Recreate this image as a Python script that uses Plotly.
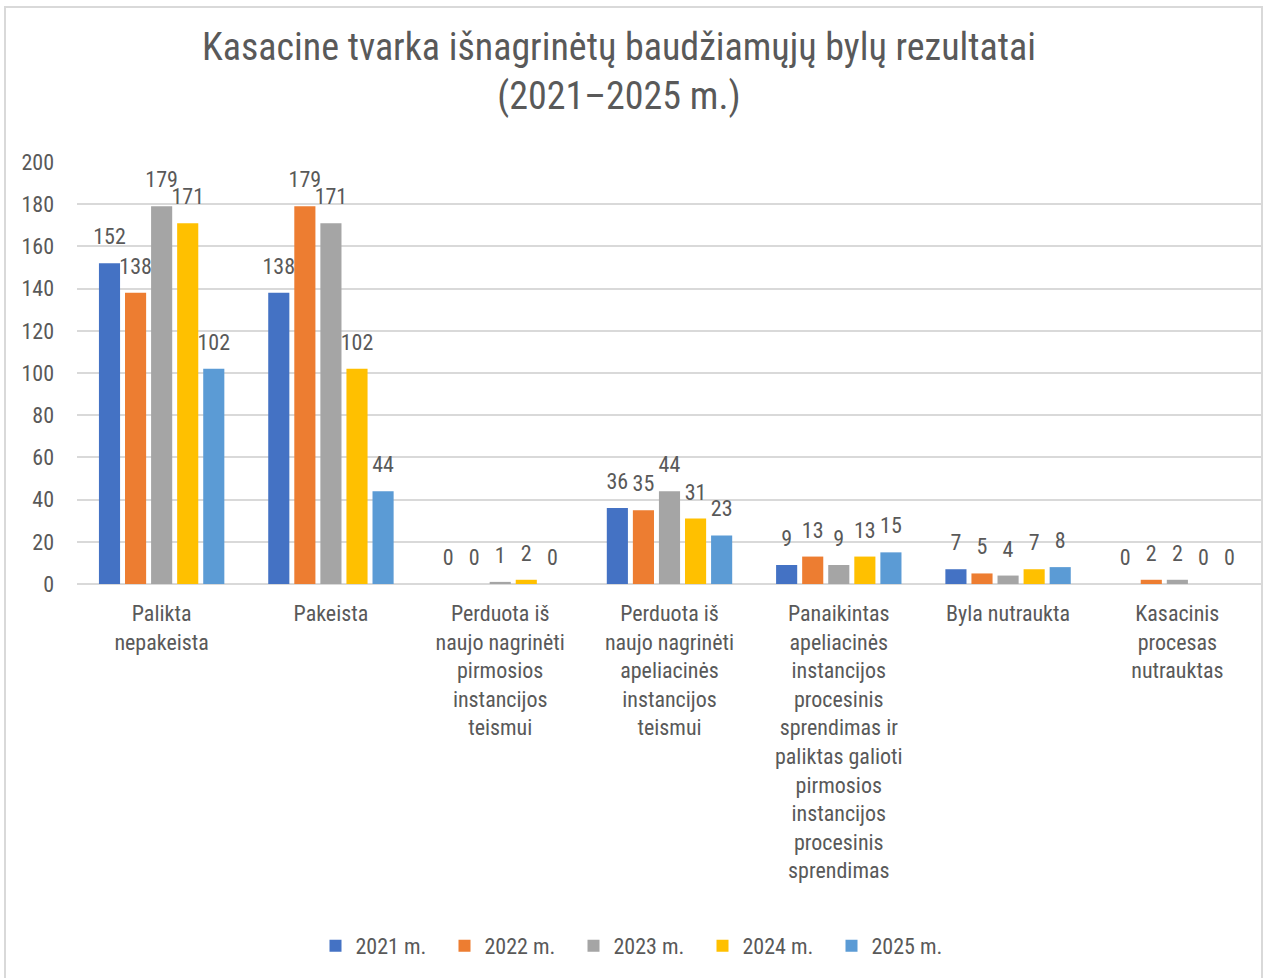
import plotly.graph_objects as go

categories = [
    "Palikta<br>nepakeista",
    "Pakeista",
    "Perduota iš<br>naujo nagrinėti<br>pirmosios<br>instancijos<br>teismui",
    "Perduota iš<br>naujo nagrinėti<br>apeliacinės<br>instancijos<br>teismui",
    "Panaikintas<br>apeliacinės<br>instancijos<br>procesinis<br>sprendimas ir<br>paliktas galioti<br>pirmosios<br>instancijos<br>procesinis<br>sprendimas",
    "Byla nutraukta",
    "Kasacinis<br>procesas<br>nutrauktas",
]
series_names = ["2021 m.", "2022 m.", "2023 m.", "2024 m.", "2025 m."]
v2021 = [152, 138, 0, 36, 9, 7, 0]
v2022 = [138, 179, 0, 35, 13, 5, 2]
v2023 = [179, 171, 1, 44, 9, 4, 2]
v2024 = [171, 102, 2, 31, 13, 7, 0]
v2025 = [102, 44, 0, 23, 15, 8, 0]
values = [v2021, v2022, v2023, v2024, v2025]
colors = ["#4472C4", "#ED7D31", "#A5A5A5", "#FFC000", "#5B9BD5"]
y_ticks = [0, 20, 40, 60, 80, 100, 120, 140, 160, 180, 200]
title_text = "Kasacine tvarka išnagrinėtų baudžiamųjų bylų rezultatai<br>(2021–2025 m.)"

FONT = "Roboto Condensed, Liberation Sans Narrow, Roboto, sans-serif"
TXT = "#595959"

W, H = 1265, 978
L, R, T, B = 77, 3, 162, 394
pw = W - L - R
ph = H - T - B
Y_MAX = 200
LABEL_GAP = 11 * Y_MAX / ph  # label lift above bar top (11 px in data units)

def px_x(x):
    return (x - L) / pw
def px_y(y):
    return (H - B - y) / ph

fig = go.Figure()
for i, (name, vals, col) in enumerate(zip(series_names, values, colors)):
    fig.add_trace(go.Bar(
        x=categories, y=vals, name=name, marker_color=col, marker_line_width=0,
        offsetgroup=str(i), hoverinfo="x+y+name",
    ))
for i, (name, vals) in enumerate(zip(series_names, values)):
    fig.add_trace(go.Bar(
        x=categories, y=[LABEL_GAP] * len(vals), base=vals, name=name,
        offsetgroup=str(i), marker_color="rgba(0,0,0,0)", marker_line_width=0,
        showlegend=False, hoverinfo="skip",
        text=[str(v) for v in vals], textposition="outside",
        textfont=dict(size=22, color=TXT, family=FONT),
        cliponaxis=False,
    ))

fig.update_layout(
    width=W, height=H,
    margin=dict(l=L, r=R, t=T, b=B, autoexpand=False),
    paper_bgcolor="white", plot_bgcolor="white",
    barmode="group", bargap=0.23, bargroupgap=0.19,
    font=dict(family=FONT, color=TXT, size=22),
    legend=dict(
        orientation="h", x=638 / W, xanchor="center", xref="container",
        y=1 - 946 / H, yanchor="middle", yref="container",
        font=dict(size=22, color=TXT, family=FONT),
        itemwidth=30, traceorder="normal",
        entrywidth=84, entrywidthmode="pixels",
    ),
    showlegend=True,
    uniformtext=dict(mode="show", minsize=22),
)
fig.add_annotation(
    text=title_text, xref="paper", yref="paper",
    x=px_x(619), y=px_y(71), xanchor="center", yanchor="middle",
    showarrow=False, font=dict(size=38, color=TXT, family=FONT),
)
fig.update_xaxes(
    showgrid=False, showline=False, ticks="", tickfont=dict(size=22, color=TXT, family=FONT),
    ticklabelstandoff=14,
)
fig.update_yaxes(
    range=[0, Y_MAX], tickvals=y_ticks, showgrid=True, gridcolor="#D9D9D9", gridwidth=1.5,
    zeroline=True, zerolinecolor="#D9D9D9", zerolinewidth=2, showline=False, ticks="",
    tickfont=dict(size=22, color=TXT, family=FONT), ticklabelstandoff=22,
)
fig.add_shape(
    type="rect", xref="paper", yref="paper",
    x0=px_x(5), x1=px_x(1262), y0=px_y(990), y1=px_y(7),
    line=dict(color="#D9D9D9", width=2), fillcolor="rgba(0,0,0,0)", layer="below",
)
fig.write_html("out.html", config={"displayModeBar": False},
               post_script="document.body.style.margin='0';")
